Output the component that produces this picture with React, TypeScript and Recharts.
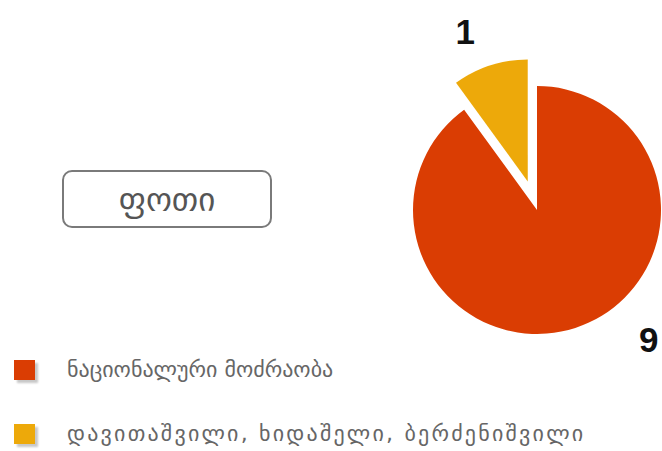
import React from "react";
import { PieChart, Pie, Cell } from "recharts";

const categories = ["დავითაშვილი, ხიდაშელი, ბერძენიშვილი", "ნაციონალური მოძრაობა"];
const values = [1, 9];
const colors = ["#EDA90A", "#DA3D03"];
const legendOrder = [1, 0];
const legendSpacing = [0, 2.2];
const title = "ფოთი";

// label placement relative to pie centre (degrees, px)
const labelAngles = [111, -49];
const labelRadii = [186, 178];

const data = categories.map((name, i) => ({ name, value: values[i] }));

const CX = 532;
const CY = 205;
const R = 124;
const EXPLODE = 30;
const START = 90;
const END = 450;

const total = values.reduce((a, b) => a + b, 0);
const yellowMid = START + ((values[0] / total) * 360) / 2;
const RAD = Math.PI / 180;
const ex = CX + EXPLODE * Math.cos(yellowMid * RAD);
const ey = CY - EXPLODE * Math.sin(yellowMid * RAD);

const renderLabel = (props: any) => {
  const { index } = props;
  const a = labelAngles[index] * RAD;
  const x = CX + labelRadii[index] * Math.cos(a);
  const y = CY - labelRadii[index] * Math.sin(a);
  return (
    <text
      x={x}
      y={y}
      textAnchor="middle"
      dominantBaseline="central"
      fontFamily="'Liberation Sans', Arial, sans-serif"
      fontWeight="bold"
      fontSize={35}
      fill="#111"
    >
      {values[index]}
    </text>
  );
};

export default function App() {
  return (
    <div style={{ position: "absolute", left: 0, top: 0, width: 662, height: 451, background: "#fff", overflow: "hidden" }}>
      <PieChart width={662} height={451}>
        <Pie
          data={data}
          dataKey="value"
          cx={CX}
          cy={CY}
          outerRadius={R}
          startAngle={START}
          endAngle={END}
          stroke="none"
          label={renderLabel}
          labelLine={false}
          isAnimationActive={false}
        >
          {data.map((d, i) => (
            <Cell key={d.name} fill={i === 0 ? "none" : colors[i]} />
          ))}
        </Pie>
        <Pie
          data={data}
          dataKey="value"
          cx={ex}
          cy={ey}
          outerRadius={R - 2}
          startAngle={START}
          endAngle={END}
          stroke="none"
          isAnimationActive={false}
        >
          {data.map((d, i) => (
            <Cell key={d.name} fill={i === 0 ? colors[i] : "none"} />
          ))}
        </Pie>
      </PieChart>
      <div
        style={{
          position: "absolute",
          left: 62,
          top: 170,
          width: 210,
          height: 58,
          border: "2px solid #7a7a7a",
          borderRadius: 10,
          boxSizing: "border-box",
          display: "flex",
          alignItems: "center",
          justifyContent: "center",
          fontFamily: "'DejaVu Sans', sans-serif",
          fontSize: 33,
          color: "#555",
        }}
      >
        {title}
      </div>
      {legendOrder.map((idx, k) => (
        <div
          key={categories[idx]}
          style={{
            position: "absolute",
            left: 14,
            top: 356 + k * 64,
            height: 28,
            display: "flex",
            alignItems: "center",
            fontFamily: "'DejaVu Sans', sans-serif",
            fontSize: 22,
            lineHeight: "28px",
            color: "#666",
            whiteSpace: "nowrap",
          }}
        >
          <div
            style={{
              width: 21,
              height: 20,
              background: colors[idx],
              boxShadow: "3px 3px 2px #c8c8c8",
              marginRight: 32,
              flexShrink: 0,
            }}
          />
          <span style={{ letterSpacing: legendSpacing[k] }}>{categories[idx]}</span>
        </div>
      ))}
    </div>
  );
}
